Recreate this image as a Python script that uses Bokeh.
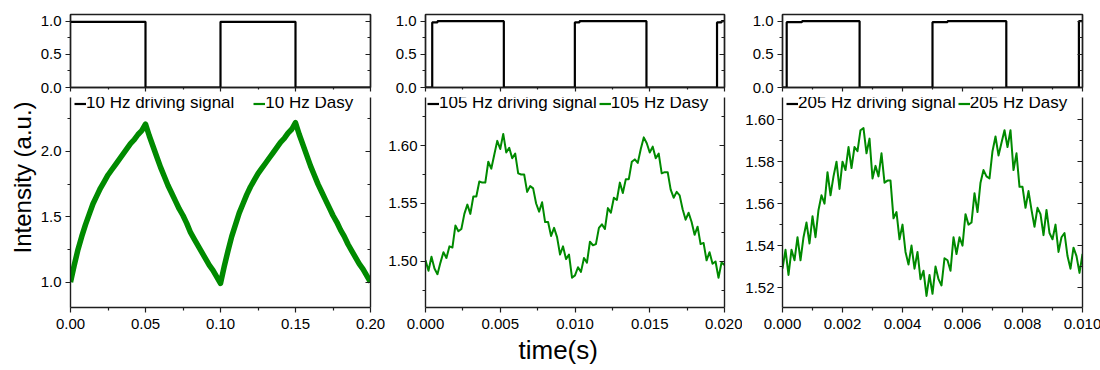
import math
from bokeh.plotting import figure
from bokeh.models import (Range1d, LinearAxis, FixedTicker, PrintfTickFormatter,
                          CustomJSTickFormatter, Legend, LegendItem, Title)
from bokeh.layouts import row, column
from bokeh.embed import file_html
from bokeh.resources import INLINE

# ---------------- data ----------------
labels_drive = ["10 Hz driving signal", "105 Hz driving signal", "205 Hz driving signal"]
labels_dasy = ["10 Hz Dasy", "105 Hz Dasy", "205 Hz Dasy"]

# driving square waves (step edges, value holds until next edge)
drive1_t = [0.0, 0.05, 0.10, 0.15, 0.20]
drive1_v = [0.99, 0.0, 0.99, 0.0, 0.0]
drive2_t = [0.0, 0.00045, 0.0008, 0.00524, 0.00999, 0.0103, 0.01478, 0.0195, 0.0198, 0.020]
drive2_v = [0.0, 0.98, 1.0, 0.0, 0.98, 1.0, 0.0, 0.98, 1.0, 1.0]
drive3_t = [0.0, 0.00014, 0.00065, 0.00257, 0.0050, 0.0055, 0.00746, 0.00988, 0.010]
drive3_v = [0.0, 0.985, 1.0, 0.0, 0.985, 1.0, 0.0, 1.0, 1.0]

# Dasy response, 10 Hz (sampled every 0.0025 s)
dasy1_dt = 0.0025
dasy1_v = [1.00, 1.13, 1.25, 1.35, 1.44, 1.52, 1.60, 1.66, 1.72, 1.77,
           1.82, 1.86, 1.90, 1.94, 1.98, 2.02, 2.06, 2.09, 2.13, 2.16,
           2.21, 2.12, 2.04, 1.96, 1.88, 1.81, 1.74, 1.68, 1.62, 1.56,
           1.51, 1.45, 1.38, 1.33, 1.28, 1.23, 1.18, 1.13, 1.09, 1.04,
           0.99, 1.12, 1.24, 1.35, 1.44, 1.53, 1.60, 1.67, 1.73, 1.78,
           1.83, 1.87, 1.91, 1.95, 1.99, 2.03, 2.07, 2.10, 2.14, 2.17,
           2.22, 2.13, 2.05, 1.97, 1.89, 1.82, 1.75, 1.69, 1.63, 1.57,
           1.51, 1.46, 1.40, 1.35, 1.29, 1.24, 1.19, 1.14, 1.10, 1.05,
           1.00]

# Dasy response, 105 Hz (sampled every 0.0002 s)
dasy2_dt = 0.0002
dasy2_v = [1.501, 1.492, 1.504, 1.494, 1.489, 1.499, 1.508, 1.503, 1.513, 1.512,
           1.531, 1.526, 1.528, 1.541, 1.549, 1.541, 1.556, 1.556, 1.569, 1.568,
           1.568, 1.586, 1.580, 1.592, 1.604, 1.597, 1.610, 1.594, 1.598, 1.589,
           1.593, 1.576, 1.575, 1.575, 1.560, 1.565, 1.563, 1.550, 1.543, 1.551,
           1.534, 1.534, 1.522, 1.529, 1.521, 1.506, 1.513, 1.502, 1.506, 1.486,
           1.488, 1.495, 1.491, 1.503, 1.499, 1.517, 1.514, 1.515, 1.529, 1.532,
           1.528, 1.546, 1.542, 1.555, 1.553, 1.568, 1.559, 1.571, 1.571, 1.586,
           1.588, 1.585, 1.597, 1.607, 1.602, 1.594, 1.599, 1.589, 1.593, 1.576,
           1.577, 1.577, 1.562, 1.555, 1.560, 1.557, 1.545, 1.536, 1.542, 1.534,
           1.523, 1.530, 1.515, 1.516, 1.501, 1.508, 1.498, 1.500, 1.486, 1.499,
           1.497]

# Dasy response, 205 Hz (sampled every 0.0001 s)
dasy3_dt = 0.0001
dasy3_v = [1.529, 1.538, 1.526, 1.538, 1.533, 1.544, 1.533, 1.544, 1.551, 1.541,
           1.554, 1.544, 1.557, 1.564, 1.560, 1.575, 1.564, 1.573, 1.580, 1.567,
           1.580, 1.576, 1.587, 1.577, 1.587, 1.585, 1.595, 1.596, 1.584, 1.591,
           1.572, 1.578, 1.573, 1.584, 1.570, 1.571, 1.571, 1.553, 1.556, 1.543,
           1.550, 1.537, 1.531, 1.540, 1.529, 1.537, 1.524, 1.528, 1.516, 1.526,
           1.517, 1.530, 1.524, 1.521, 1.534, 1.533, 1.528, 1.544, 1.536, 1.544,
           1.540, 1.555, 1.550, 1.551, 1.565, 1.556, 1.570, 1.576, 1.573, 1.572,
           1.585, 1.592, 1.583, 1.589, 1.595, 1.587, 1.595, 1.576, 1.584, 1.568,
           1.568, 1.558, 1.566, 1.557, 1.549, 1.558, 1.555, 1.545, 1.557, 1.546,
           1.543, 1.550, 1.537, 1.544, 1.546, 1.535, 1.529, 1.539, 1.535, 1.527,
           1.536]

# axes ranges and ticks
x_ranges = [(0.0, 0.20), (0.0, 0.020), (0.0, 0.010)]
x_ticks = [[0.0, 0.05, 0.10, 0.15, 0.20],
           [0.0, 0.005, 0.010, 0.015, 0.020],
           [0.0, 0.002, 0.004, 0.006, 0.008, 0.010]]
x_minor = [[0.025, 0.075, 0.125, 0.175],
           [0.0025, 0.0075, 0.0125, 0.0175],
           [0.001, 0.003, 0.005, 0.007, 0.009]]
x_fmt = ["%.2f", "%.3f", "%.3f"]

top_range = (0.0, 1.1)
top_ticks = [0.0, 0.5, 1.0]
top_minor = [0.25, 0.75]

y_ranges = [(0.806, 2.413), (1.4603, 1.6414), (1.5105, 1.6106)]
y_ticks = [[1.0, 1.5, 2.0],
           [1.50, 1.55, 1.60],
           [1.52, 1.54, 1.56, 1.58, 1.60]]
y_minor = [[0.75, 1.25, 1.75, 2.25],
           [1.475, 1.525, 1.575, 1.625],
           [1.53, 1.55, 1.57, 1.59]]
y_fmt = ["%.1f", "%.2f", "%.2f"]

y_title = "Intensity (a.u.)"
x_title = "time(s)"

# ---------------- style / layout ----------------
FONT = "Liberation Sans"
GREEN = "#008a00"
AX = "#1e1e1e"
TICK_FS = "15px"
LEG_FS = "17px"

col_L = [70, 40, 37]
col_W = [300, 299, 300]
col_R = [15, 18, 19]
leg_x = [4, 2, 4]
leg_spacing = [19, 2, 2]
green_w = [5.5, 2, 2]
bottom_border = [30, 63, 30]

drives = [(drive1_t, drive1_v), (drive2_t, drive2_v), (drive3_t, drive3_v)]
dasy = [(dasy1_dt, dasy1_v), (dasy2_dt, dasy2_v), (dasy3_dt, dasy3_v)]

BLANK = CustomJSTickFormatter(code="return ''")


def style_axis(ax, ticks, minor, fmt, labels=True, inside=False, tick_out=5, minor_out=3):
    ax.ticker = FixedTicker(ticks=ticks, minor_ticks=minor)
    ax.axis_line_color = AX
    ax.axis_line_width = 1.4
    ax.major_tick_line_color = AX
    ax.minor_tick_line_color = AX
    ax.major_tick_line_width = 1.2
    ax.minor_tick_line_width = 1.2
    if inside:
        ax.major_tick_in, ax.major_tick_out = 5, 0
        ax.minor_tick_in, ax.minor_tick_out = 3, 0
    else:
        ax.major_tick_in, ax.major_tick_out = 0, tick_out
        ax.minor_tick_in, ax.minor_tick_out = 0, minor_out
    if labels:
        ax.formatter = PrintfTickFormatter(format=fmt)
        ax.major_label_text_font = FONT
        ax.major_label_text_font_size = TICK_FS
        ax.major_label_text_color = "black"
    else:
        ax.formatter = BLANK
        ax.major_label_text_font_size = "0px"
        ax.major_label_standoff = 0


columns = []
for k in range(3):
    xr = x_ranges[k]
    # ---- top: driving signal ----
    pt = figure(frame_width=col_W[k], frame_height=73,
                x_range=Range1d(*xr), y_range=Range1d(*top_range),
                min_border_left=col_L[k], min_border_right=col_R[k],
                min_border_top=14, min_border_bottom=7,
                output_backend="svg", toolbar_location=None)
    pt.grid.visible = False
    pt.outline_line_color = AX
    pt.outline_line_width = 1.4
    style_axis(pt.xaxis[0], x_ticks[k], x_minor[k], x_fmt[k], labels=False,
               tick_out=4, minor_out=2)
    style_axis(pt.yaxis[0], top_ticks, top_minor, "%.1f")
    pt.yaxis[0].major_label_standoff = 4
    ra = LinearAxis()
    style_axis(ra, top_ticks, top_minor, "", labels=False, inside=True)
    pt.add_layout(ra, "right")
    dt, dv = drives[k]
    pt.step(x=dt, y=dv, mode="after", line_color="black", line_width=2.2)

    # ---- bottom: Dasy response ----
    pb = figure(frame_width=col_W[k], frame_height=210,
                x_range=Range1d(*xr), y_range=Range1d(*y_ranges[k]),
                min_border_left=col_L[k], min_border_right=col_R[k],
                min_border_top=3, min_border_bottom=bottom_border[k],
                output_backend="svg", toolbar_location=None)
    pb.grid.visible = False
    pb.outline_line_color = None
    style_axis(pb.xaxis[0], x_ticks[k], x_minor[k], x_fmt[k])
    pb.xaxis[0].major_label_standoff = 6
    style_axis(pb.yaxis[0], y_ticks[k], y_minor[k], y_fmt[k])
    pb.yaxis[0].major_label_standoff = 3 if k else 4
    rb = LinearAxis()
    style_axis(rb, y_ticks[k], y_minor[k], "", labels=False, inside=True)
    pb.add_layout(rb, "right")

    step_dt, vals = dasy[k]
    ts = [i * step_dt for i in range(len(vals))]
    pb.line(x=ts, y=vals, line_color=GREEN, line_width=green_w[k], line_join="round")

    # legend entries: same series drawn on an off-frame range (only their legend glyphs show)
    pb.extra_y_ranges = {"legend_only": Range1d(10, 11)}
    r_blk = pb.step(x=dt, y=dv, mode="after", y_range_name="legend_only",
                    line_color="black", line_width=2.2)
    r_grn = pb.line(x=ts, y=vals, y_range_name="legend_only",
                    line_color=GREEN, line_width=2.2)
    leg = Legend(items=[LegendItem(label=labels_drive[k], renderers=[r_blk]),
                        LegendItem(label=labels_dasy[k], renderers=[r_grn])],
                 location=(leg_x[k], 194), orientation="horizontal",
                 background_fill_alpha=0, border_line_color=None,
                 padding=0, margin=0, spacing=leg_spacing[k],
                 glyph_width=12, glyph_height=13, label_height=13,
                 label_standoff=0, label_text_font=FONT,
                 label_text_font_size=LEG_FS, label_text_color="black")
    pb.add_layout(leg)

    if k == 0:
        pb.add_layout(Title(text=y_title, align="left", offset=54, standoff=3,
                            text_font=FONT, text_font_size="24px",
                            text_font_style="normal", text_color="black"), "left")
    if k == 1:
        pb.add_layout(Title(text=x_title, align="left", offset=93, standoff=2,
                            text_font=FONT, text_font_size="26px",
                            text_font_style="normal", text_color="black"), "below")

    columns.append(column(pt, pb, spacing=0))

layout = row(*columns, spacing=0)

open("out.html", "w").write(file_html(layout, INLINE))
